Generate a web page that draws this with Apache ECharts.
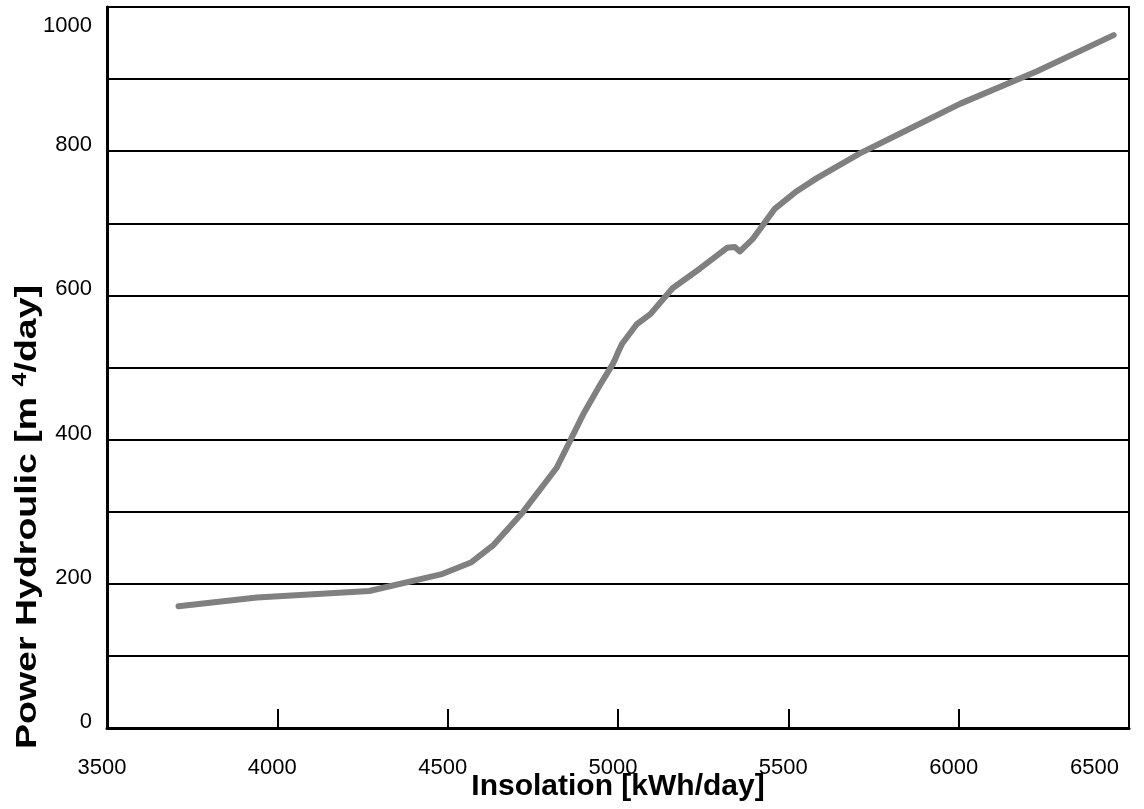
<!DOCTYPE html>
<html>
<head>
<meta charset="utf-8">
<script src="https://cdn.jsdelivr.net/npm/echarts@6/dist/echarts.min.js"></script>
<style>
  html, body { margin: 0; padding: 0; background: #fff; }
  #main { width: 1144px; height: 809px; }
</style>
</head>
<body>
<div id="main"></div>
<script>
// values
var insolation = [3710, 3940, 4270, 4480, 4570, 4635, 4720, 4820, 4860, 4900, 4950, 4985, 4992, 5000, 5012, 5055, 5095, 5160, 5240, 5320, 5343, 5358, 5395, 5460, 5520, 5585, 5710, 5800, 6005, 6230, 6455];
var hydraulic  = [169, 181, 190, 213, 230, 254, 299, 361, 399, 437, 478, 505, 512, 521, 533, 560, 574, 610, 637, 666, 667, 661, 678, 720, 743, 763, 797, 818, 866, 911, 961];
var xTicks = [3500, 4000, 4500, 5000, 5500, 6000, 6500];
var yTicks = [0, 200, 400, 600, 800, 1000];

var points = [];
for (var i = 0; i < insolation.length; i++) {
  points.push([insolation[i], hydraulic[i]]);
}

var myChart = echarts.init(document.getElementById("main"));
myChart.setOption({
  animation: false,
  textStyle: { fontFamily: "Liberation Sans" },
  grid: {
    left: 107,
    right: 15,
    top: 7,
    bottom: 81,
    containLabel: false,
    outerBoundsMode: "none",
    show: true,
    borderColor: "#000",
    borderWidth: 2
  },
  xAxis: {
    type: "value",
    min: xTicks[0],
    max: xTicks[xTicks.length - 1],
    interval: 500,
    name: "Insolation [kWh/day]",
    nameLocation: "middle",
    nameGap: 44,
    nameMoveOverlap: false,
    nameTextStyle: { fontSize: 30, fontWeight: "bold", color: "#000" },
    axisLine: { show: true, lineStyle: { color: "#000", width: 3 } },
    axisTick: { show: true, inside: true, length: 19, lineStyle: { color: "#000", width: 2 } },
    axisLabel: {
      fontSize: 22,
      color: "#000",
      margin: 29,
      padding: [0, 10, 0, 0],
      alignMaxLabel: "right",
      formatter: function (v) { return String(v); }
    },
    splitLine: { show: false }
  },
  yAxis: {
    type: "value",
    min: 0,
    max: 1000,
    interval: 100,
    axisLine: { show: true, lineStyle: { color: "#000", width: 3 } },
    axisTick: { show: false },
    axisLabel: {
      fontSize: 22,
      color: "#000",
      margin: 15,
      formatter: function (v) {
        if (yTicks.indexOf(v) < 0) return "";
        if (v === 1000) return "{t|" + v + "}";
        return "{n|" + v + "}";
      },
      rich: {
        t: { fontSize: 22, color: "#000", fontFamily: "Liberation Sans", padding: [38, 0, 0, 0] },
        n: { fontSize: 22, color: "#000", fontFamily: "Liberation Sans", padding: [0, 0, 12, 0] }
      }
    },
    splitLine: { show: true, lineStyle: { color: "#000", width: 2 } }
  },
  graphic: [
    {
      type: "text",
      x: 28,
      y: 517,
      rotation: Math.PI / 2,
      scaleX: 1.25,
      style: {
        text: "{a|Power Hydroulic [m }{s|4}{a|/day]}",
        align: "center",
        verticalAlign: "middle",
        rich: {
          a: { fontSize: 30, fontWeight: "bold", fill: "#000", fontFamily: "Liberation Sans" },
          s: { fontSize: 20, fontWeight: "bold", fill: "#000", fontFamily: "Liberation Sans", padding: [0, 0, 16, 0] }
        }
      }
    }
  ],
  series: [
    {
      type: "line",
      data: points,
      symbol: "none",
      lineStyle: { color: "#808080", width: 6, cap: "round", join: "round" }
    }
  ]
});
</script>
</body>
</html>
